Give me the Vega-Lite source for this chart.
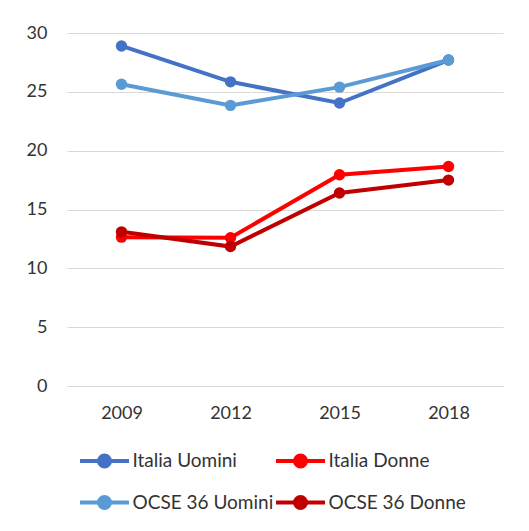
{
  "$schema": "https://vega.github.io/schema/vega-lite/v6.json",
  "autosize": {"type": "none"},
  "width": 436,
  "height": 353,
  "padding": {"left": 67, "top": 33, "right": 26, "bottom": 145},
  "background": "white",
  "data": {
    "values": [
      {"anno": "2009", "serie": "Italia Uomini", "valore": 28.9},
      {"anno": "2012", "serie": "Italia Uomini", "valore": 25.85},
      {"anno": "2015", "serie": "Italia Uomini", "valore": 24.05},
      {"anno": "2018", "serie": "Italia Uomini", "valore": 27.7},
      {"anno": "2009", "serie": "Italia Donne", "valore": 12.65},
      {"anno": "2012", "serie": "Italia Donne", "valore": 12.6},
      {"anno": "2015", "serie": "Italia Donne", "valore": 17.95},
      {"anno": "2018", "serie": "Italia Donne", "valore": 18.65},
      {"anno": "2009", "serie": "OCSE 36 Uomini", "valore": 25.65},
      {"anno": "2012", "serie": "OCSE 36 Uomini", "valore": 23.85},
      {"anno": "2015", "serie": "OCSE 36 Uomini", "valore": 25.4},
      {"anno": "2018", "serie": "OCSE 36 Uomini", "valore": 27.7},
      {"anno": "2009", "serie": "OCSE 36 Donne", "valore": 13.1},
      {"anno": "2012", "serie": "OCSE 36 Donne", "valore": 11.85},
      {"anno": "2015", "serie": "OCSE 36 Donne", "valore": 16.4},
      {"anno": "2018", "serie": "OCSE 36 Donne", "valore": 17.5}
    ]
  },
  "encoding": {
    "x": {
      "field": "anno", "type": "ordinal",
      "scale": {"type": "point", "padding": 0.5},
      "axis": {"title": null, "labelAngle": 0, "ticks": false, "domain": true, "domainColor": "#d9d9d9", "labelPadding": 18, "grid": false}
    },
    "y": {
      "field": "valore", "type": "quantitative",
      "scale": {"domain": [0, 30], "nice": false},
      "axis": {"title": null, "values": [0, 5, 10, 15, 20, 25, 30], "ticks": false, "domain": false, "labelPadding": 20, "gridColor": "#d9d9d9", "gridWidth": 1}
    },
    "color": {
      "field": "serie", "type": "nominal",
      "scale": {
        "domain": ["Italia Uomini", "Italia Donne", "OCSE 36 Uomini", "OCSE 36 Donne"],
        "range": ["#4472C4", "#FF0000", "#5B9BD5", "#C00000"]
      },
      "legend": {
        "orient": "none", "legendX": 23, "legendY": 413, "direction": "horizontal", "columns": 2, "title": null,
        "symbolType": "M -2 0 L 2 0 M -0.45 0 A 0.45 0.45 0 1 1 0.45 0 A 0.45 0.45 0 1 1 -0.45 0 Z",
        "symbolSize": 600, "symbolStrokeWidth": 4,
        "labelFont": "Lato", "labelFontSize": 19, "labelColor": "#333333",
        "labelOffset": 13.5, "columnPadding": -6, "rowPadding": 13,
        "encode": {"symbols": {"update": {"fill": {"scale": "color", "field": "value"}, "stroke": {"scale": "color", "field": "value"}}}}
      }
    }
  },
  "layer": [
    {"mark": {"type": "line", "strokeWidth": 4}},
    {"mark": {"type": "point", "filled": true, "size": 130, "opacity": 1}}
  ],
  "config": {
    "view": {"stroke": null},
    "axis": {"labelFont": "Lato", "labelFontSize": 18, "labelColor": "#333333"}
  }
}
